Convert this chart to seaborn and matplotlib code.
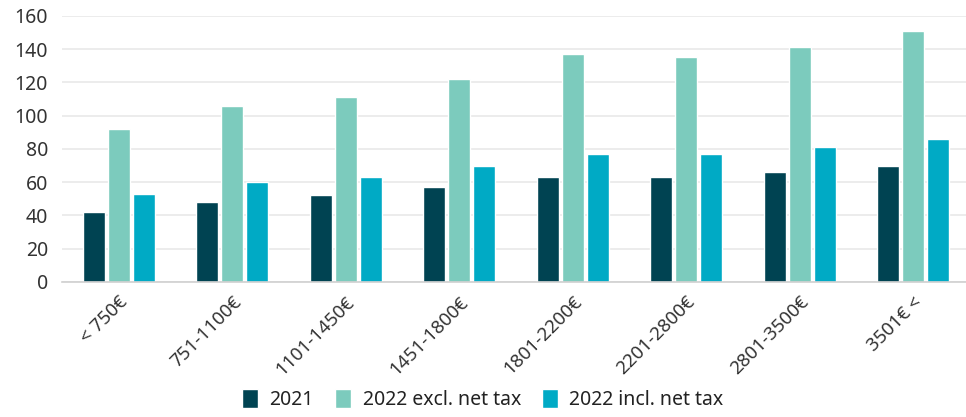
import matplotlib
matplotlib.use("Agg")
import matplotlib.pyplot as plt
import seaborn as sns
import pandas as pd
import numpy as np

categories = ["< 750€", "751-1100€", "1101-1450€", "1451-1800€",
              "1801-2200€", "2201-2800€", "2801-3500€", "3501€ <"]
series_names = ["2021", "2022 excl. net tax", "2022 incl. net tax"]
vals_2021 = [42, 48, 52, 57, 63, 63, 66, 69.5]
vals_2022_excl = [92, 106, 111, 122, 137, 135, 141, 151]
vals_2022_incl = [53, 60, 63, 69.5, 77, 77, 81, 86]
colors = ["#004352", "#7ccbbd", "#00aac5"]

df = pd.DataFrame({
    "cat": categories * 3,
    "series": np.repeat(series_names, len(categories)),
    "value": vals_2021 + vals_2022_excl + vals_2022_incl,
})

sns.set_theme(style="white")
plt.rcParams["font.family"] = ["Noto Sans", "DejaVu Sans"]

fig = plt.figure(figsize=(9.66, 4.17), dpi=100)
ax = fig.add_axes([0.064, 0.324, 0.94, 0.638])

sns.barplot(data=df, x="cat", y="value", hue="series", palette=colors,
            width=0.66, gap=0.12, saturation=1, ax=ax, legend=True)

ax.set_xlim(-0.5, 7.5)
ax.set_ylim(0, 160)
ax.set_yticks(range(0, 161, 20))
ax.yaxis.grid(True, color="#e9e9e9", linewidth=1.2)
ax.set_axisbelow(True)
ax.set_xlabel("")
ax.set_ylabel("")

for s in ["top", "right", "left"]:
    ax.spines[s].set_visible(False)
ax.spines["bottom"].set_color("#d0d0d0")
ax.spines["bottom"].set_linewidth(1.2)

ax.set_xticks(np.arange(len(categories)))
ax.set_xticklabels(categories, rotation=45, ha="right", rotation_mode="anchor")
ax.set_xticks(np.arange(len(categories)) - 0.5, minor=True)
ax.tick_params(axis="x", which="major", length=0, pad=8, labelsize=13.5, labelcolor="#333333")
ax.tick_params(axis="x", which="minor", length=5, color="#777777", width=1)
ax.tick_params(axis="y", length=0, labelsize=14, labelcolor="#333333", pad=10)

handles, labels = ax.get_legend_handles_labels()
ax.legend_.remove()
fig.legend(handles, labels, loc="lower center", bbox_to_anchor=(0.5, -0.025),
           ncol=3, frameon=False, fontsize=14, handlelength=0.8, handleheight=1.1,
           handletextpad=0.6, columnspacing=1.1, labelcolor="#222222")

fig.savefig("out.png", dpi=100)
